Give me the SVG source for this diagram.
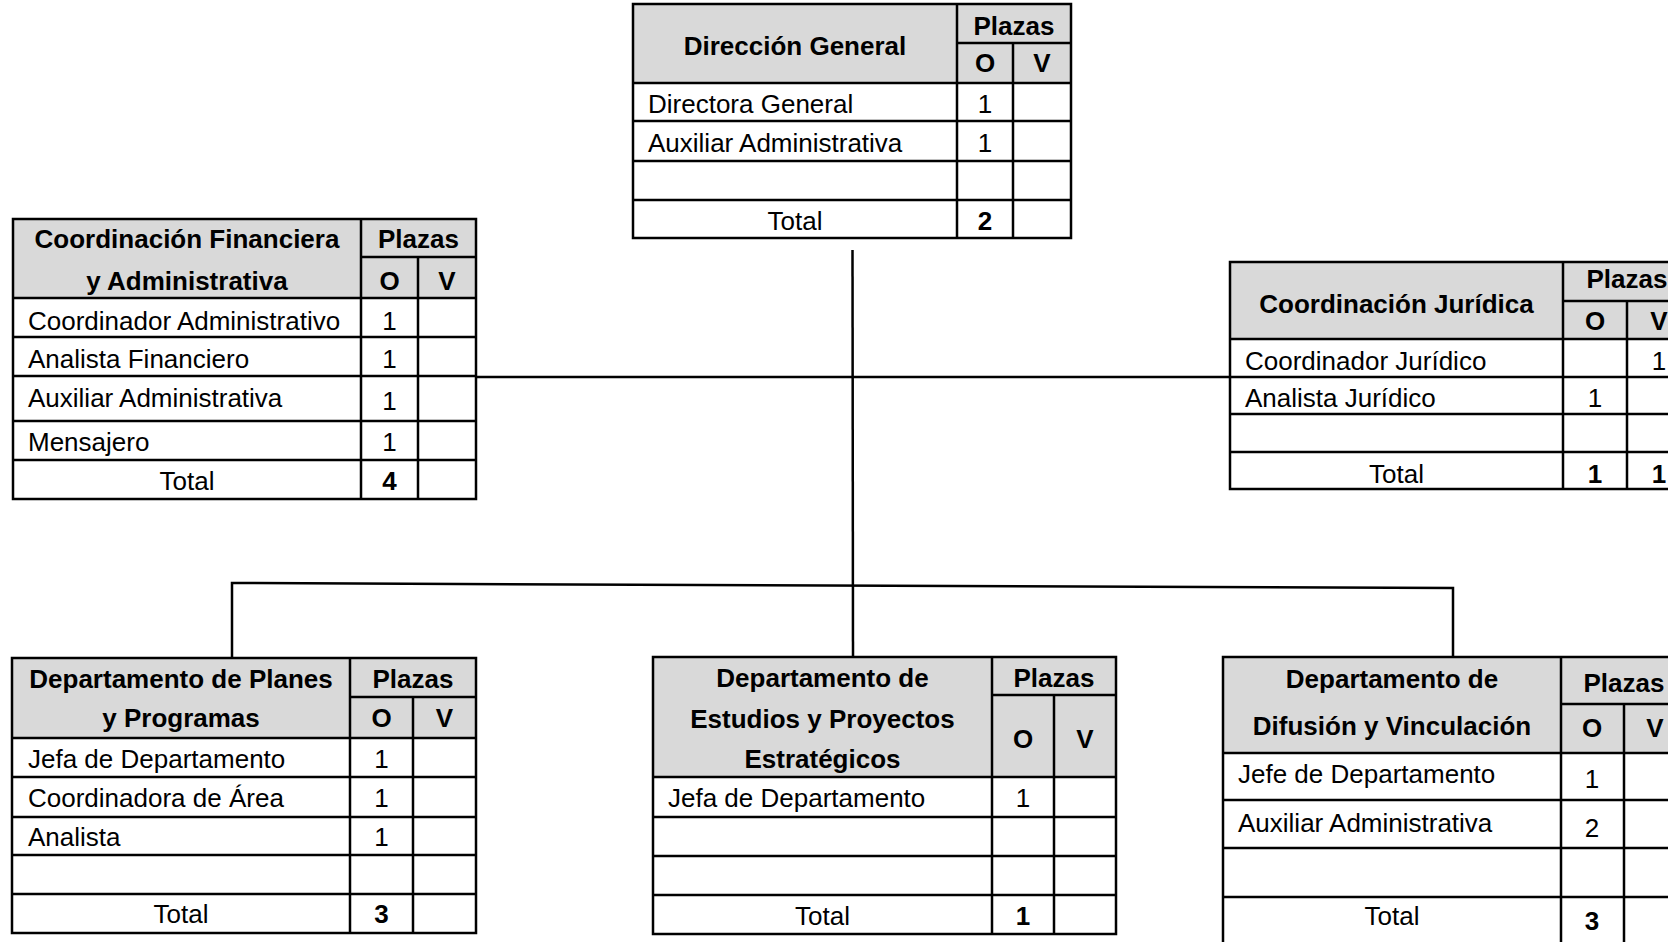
<svg xmlns="http://www.w3.org/2000/svg" width="1668" height="942" viewBox="0 0 1668 942">
<style>
.hdr{fill:#d9d9d9;stroke:none}
.b{fill:none;stroke:#000;stroke-width:2.5}
.ln{stroke:#000;stroke-width:2.5;fill:none}
text{font-family:"Liberation Sans",Arial,sans-serif;font-size:26px;fill:#000}
.h{font-weight:bold;text-anchor:middle}
.c{text-anchor:middle}
.bc{text-anchor:middle;font-weight:bold}
</style>
<rect width="1668" height="942" fill="#fff"/>
<g id="connectors">
<line class="ln" x1="852.5" y1="250" x2="853" y2="657"/>
<line class="ln" x1="476" y1="377" x2="1230" y2="377"/>
<polyline class="ln" points="232,658 232,583 1453,588 1453,657"/>
</g>

<g id="direccion-general">
<rect class="hdr" x="633" y="4" width="438" height="79"/>
<rect class="b" x="633" y="4" width="438" height="234"/>
<path class="ln" d="M957,4V238M1013,43V238M957,43H1071M633,83H1071M633,121H1071M633,161H1071M633,200H1071"/>
<text class="h" x="795" y="55">Dirección General</text>
<text class="h" x="1014" y="35">Plazas</text>
<text class="h" x="985" y="72">O</text>
<text class="h" x="1042" y="72">V</text>
<text x="648" y="113">Directora General</text>
<text class="c" x="985" y="113">1</text>
<text x="648" y="152">Auxiliar Administrativa</text>
<text class="c" x="985" y="152">1</text>
<text class="c" x="795" y="230">Total</text>
<text class="bc" x="985" y="230">2</text>
</g>

<g id="coord-financiera">
<rect class="hdr" x="13" y="219" width="463" height="79"/>
<rect class="b" x="13" y="219" width="463" height="280"/>
<path class="ln" d="M361,219V499M418,257V499M361,257H476M13,298H476M13,337H476M13,376H476M13,421H476M13,460H476"/>
<text class="h" x="187" y="248">Coordinación Financiera</text>
<text class="h" x="187" y="290">y Administrativa</text>
<text class="h" x="418.5" y="248">Plazas</text>
<text class="h" x="389.5" y="290">O</text>
<text class="h" x="447" y="290">V</text>
<text x="28" y="330">Coordinador Administrativo</text>
<text class="c" x="389.5" y="330">1</text>
<text x="28" y="368">Analista Financiero</text>
<text class="c" x="389.5" y="368">1</text>
<text x="28" y="407">Auxiliar Administrativa</text>
<text class="c" x="389.5" y="410">1</text>
<text x="28" y="451">Mensajero</text>
<text class="c" x="389.5" y="451">1</text>
<text class="c" x="187" y="490">Total</text>
<text class="bc" x="389.5" y="490">4</text>
</g>

<g id="coord-juridica">
<rect class="hdr" x="1230" y="262" width="461" height="77"/>
<rect class="b" x="1230" y="262" width="461" height="227"/>
<path class="ln" d="M1563,262V489M1627,301V489M1563,301H1691M1230,339H1691M1230,377H1691M1230,414H1691M1230,452H1691"/>
<text class="h" x="1396.5" y="313">Coordinación Jurídica</text>
<text class="h" x="1627" y="288">Plazas</text>
<text class="h" x="1595" y="330">O</text>
<text class="h" x="1659" y="330">V</text>
<text x="1245" y="370">Coordinador Jurídico</text>
<text class="c" x="1659" y="370">1</text>
<text x="1245" y="407">Analista Jurídico</text>
<text class="c" x="1595" y="407">1</text>
<text class="c" x="1396.5" y="483">Total</text>
<text class="bc" x="1595" y="483">1</text>
<text class="bc" x="1659" y="483">1</text>
</g>

<g id="depto-planes">
<rect class="hdr" x="12" y="658" width="464" height="80"/>
<rect class="b" x="12" y="658" width="464" height="275"/>
<path class="ln" d="M350,658V933M413,697V933M350,697H476M12,738H476M12,777H476M12,817H476M12,855H476M12,894H476"/>
<text class="h" x="181" y="688">Departamento de Planes</text>
<text class="h" x="181" y="727">y Programas</text>
<text class="h" x="413" y="688">Plazas</text>
<text class="h" x="381.5" y="727">O</text>
<text class="h" x="444.5" y="727">V</text>
<text x="28" y="768">Jefa de Departamento</text>
<text class="c" x="381.5" y="768">1</text>
<text x="28" y="807">Coordinadora de Área</text>
<text class="c" x="381.5" y="807">1</text>
<text x="28" y="846">Analista</text>
<text class="c" x="381.5" y="846">1</text>
<text class="c" x="181" y="923">Total</text>
<text class="bc" x="381.5" y="923">3</text>
</g>

<g id="depto-estudios">
<rect class="hdr" x="653" y="657" width="463" height="120"/>
<rect class="b" x="653" y="657" width="463" height="277"/>
<path class="ln" d="M992,657V934M1054,695V934M992,695H1116M653,777H1116M653,817H1116M653,856H1116M653,895H1116"/>
<text class="h" x="822.5" y="687">Departamento de</text>
<text class="h" x="822.5" y="728">Estudios y Proyectos</text>
<text class="h" x="822.5" y="768">Estratégicos</text>
<text class="h" x="1054" y="687">Plazas</text>
<text class="h" x="1023" y="748">O</text>
<text class="h" x="1085" y="748">V</text>
<text x="668" y="807">Jefa de Departamento</text>
<text class="c" x="1023" y="807">1</text>
<text class="c" x="822.5" y="925">Total</text>
<text class="bc" x="1023" y="925">1</text>
</g>

<g id="depto-difusion">
<rect class="hdr" x="1223" y="657" width="464" height="96"/>
<rect class="b" x="1223" y="657" width="464" height="288"/>
<path class="ln" d="M1561,657V945M1624,704V945M1561,704H1687M1223,753H1687M1223,800H1687M1223,848H1687M1223,897H1687"/>
<text class="h" x="1392" y="688">Departamento de</text>
<text class="h" x="1392" y="735">Difusión y Vinculación</text>
<text class="h" x="1624" y="692">Plazas</text>
<text class="h" x="1592" y="737">O</text>
<text class="h" x="1655" y="737">V</text>
<text x="1238" y="783">Jefe de Departamento</text>
<text class="c" x="1592" y="788">1</text>
<text x="1238" y="832">Auxiliar Administrativa</text>
<text class="c" x="1592" y="837">2</text>
<text class="c" x="1392" y="925">Total</text>
<text class="bc" x="1592" y="930">3</text>
</g>
</svg>
